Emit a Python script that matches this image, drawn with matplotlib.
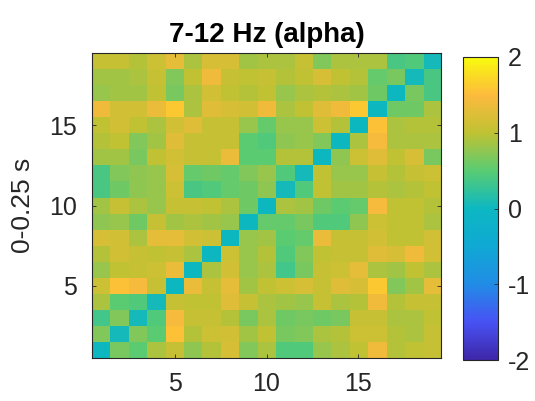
import numpy as np
import matplotlib
matplotlib.use("Agg")
import matplotlib.pyplot as plt
from matplotlib.colors import LinearSegmentedColormap

plt.rcParams['font.family'] = ['Liberation Sans', 'DejaVu Sans']
plt.rcParams['axes.unicode_minus'] = False

title = "7-12 Hz (alpha)"
ylabel = "0-0.25 s"
clim = (-2, 2)
xticks = [5, 10, 15]
yticks = [5, 10, 15]
cbar_ticks = [-2, -1, 0, 1, 2]

# rows listed top (19) to bottom (1)
rows_top_down = [
    [1.05, 1.05, 0.95, 1.1, 1.3, 0.9, 1.2, 1.2, 0.85, 0.9, 0.9, 1.05, 0.7, 0.9, 0.9, 0.9, 0.4, 0.45, 0.05],
    [0.85, 0.85, 0.9, 1.05, 0.7, 1.0, 1.4, 1.05, 1.0, 1.05, 0.95, 1.0, 1.2, 1.0, 0.95, 0.55, 0.65, 0.05, 0.4],
    [0.8, 0.85, 0.85, 1.0, 0.65, 0.9, 1.15, 1.0, 0.95, 1.0, 0.8, 0.9, 0.95, 0.9, 0.85, 0.6, 0.0, 0.65, 0.4],
    [1.4, 1.15, 1.15, 1.35, 1.6, 0.9, 1.25, 1.2, 1.15, 1.4, 0.9, 1.0, 1.25, 1.4, 1.6, 0.0, 0.6, 0.6, 0.9],
    [1.0, 1.15, 1.0, 0.9, 1.15, 1.25, 1.05, 1.05, 0.8, 0.55, 0.8, 0.8, 1.1, 0.95, 0.0, 1.55, 0.9, 0.95, 0.95],
    [0.95, 1.0, 0.7, 0.85, 1.25, 1.05, 1.05, 1.05, 0.5, 0.45, 0.75, 0.8, 0.7, 0.0, 0.9, 1.45, 0.9, 0.9, 0.9],
    [0.85, 0.85, 0.65, 1.0, 1.15, 1.05, 1.05, 1.35, 0.5, 0.5, 0.95, 0.95, 0.0, 0.75, 1.1, 1.25, 1.0, 1.2, 0.65],
    [0.4, 0.7, 0.75, 0.8, 1.2, 0.55, 0.6, 0.55, 0.7, 0.8, 0.45, 0.05, 1.0, 0.8, 0.8, 1.05, 0.95, 1.05, 1.1],
    [0.4, 0.6, 0.75, 0.8, 1.1, 0.4, 0.45, 0.55, 0.6, 0.75, 0.05, 0.45, 1.0, 0.85, 0.85, 0.95, 0.9, 0.95, 1.0],
    [0.85, 1.05, 0.9, 0.8, 1.05, 1.05, 1.0, 0.9, 0.6, 0.0, 0.9, 0.85, 0.6, 0.5, 0.55, 1.45, 1.0, 1.0, 0.95],
    [0.75, 0.8, 0.6, 1.05, 0.85, 0.9, 0.85, 0.8, 0.0, 0.55, 0.55, 0.65, 0.45, 0.45, 0.75, 1.1, 1.0, 1.0, 0.9],
    [1.2, 1.15, 0.9, 1.3, 1.3, 1.15, 1.1, 0.0, 0.8, 0.85, 0.5, 0.55, 1.35, 1.05, 1.05, 1.15, 1.0, 1.0, 1.15],
    [0.95, 1.15, 1.05, 1.0, 1.05, 0.9, 0.0, 1.1, 0.8, 0.95, 0.45, 0.7, 1.0, 1.05, 1.05, 1.25, 1.2, 1.4, 1.15],
    [0.8, 1.0, 1.05, 1.1, 1.35, 0.0, 0.9, 1.15, 0.8, 0.9, 0.35, 0.65, 1.05, 1.1, 1.3, 0.9, 0.85, 1.0, 0.9],
    [1.1, 1.55, 1.45, 1.05, 0.0, 1.35, 1.05, 1.3, 0.85, 1.0, 1.1, 1.2, 1.05, 1.25, 1.2, 1.6, 0.7, 0.85, 1.3],
    [0.9, 0.5, 0.45, 0.05, 1.05, 1.0, 1.0, 1.25, 1.05, 0.9, 0.85, 0.8, 1.05, 0.9, 0.95, 1.4, 0.95, 1.05, 1.05],
    [0.35, 0.7, 0.05, 0.45, 1.45, 1.05, 1.05, 0.95, 0.65, 0.9, 0.6, 0.65, 0.6, 0.65, 1.05, 1.05, 0.9, 0.9, 1.0],
    [0.7, 0.05, 0.7, 0.5, 1.55, 0.95, 1.1, 1.15, 0.85, 1.0, 0.65, 0.7, 0.9, 0.95, 1.1, 1.1, 0.95, 0.9, 1.05],
    [0.0, 0.65, 0.5, 0.9, 1.05, 0.75, 0.95, 1.2, 0.7, 0.9, 0.45, 0.45, 0.8, 0.9, 1.0, 1.4, 0.95, 1.0, 1.05],
]

# approximate MATLAB parula
parula_pts = [
    (0.000, (0.2422, 0.1504, 0.6603)),
    (0.125, (0.2810, 0.3228, 0.9579)),
    (0.250, (0.1300, 0.5500, 0.9000)),
    (0.375, (0.0600, 0.6600, 0.8300)),
    (0.500, (0.0500, 0.7200, 0.7600)),
    (0.625, (0.3500, 0.8000, 0.4500)),
    (0.750, (0.7500, 0.7600, 0.2000)),
    (0.875, (0.9900, 0.7300, 0.2400)),
    (1.000, (0.9763, 0.9831, 0.0538)),
]
parula = LinearSegmentedColormap.from_list("parula", parula_pts, N=256)

data = np.array(rows_top_down)[::-1]
n = data.shape[0]

fig = plt.figure(figsize=(5.35, 4.01), dpi=100)
ax = fig.add_axes([92 / 535, 1 - 358 / 401, 349 / 535, 305 / 401])
im = ax.imshow(data, cmap=parula, vmin=clim[0], vmax=clim[1], origin='lower',
               extent=[0.5, n + 0.5, 0.5, n + 0.5], aspect='auto', interpolation='nearest')
ax.set_xticks(xticks)
ax.set_yticks(yticks)
edge = (0.15, 0.15, 0.15)
ax.tick_params(direction='in', length=3, width=0.6, top=True, right=True,
               labelsize=18, colors=edge)
ax.tick_params(axis='x', pad=10)
ax.tick_params(axis='y', pad=11)
for s in ax.spines.values():
    s.set_color(edge)
    s.set_linewidth(0.8)
ax.set_title(title, fontsize=20, fontweight='bold', pad=8)
ax.set_ylabel(ylabel, fontsize=19, color=edge, labelpad=10)

cax = fig.add_axes([463 / 535, 1 - 360 / 401, 35 / 535, 303 / 401])
cb = fig.colorbar(im, cax=cax, ticks=cbar_ticks)
cb.outline.set_edgecolor(edge)
cb.outline.set_linewidth(0.8)
cax.tick_params(direction='in', length=3, width=0.6, labelsize=18, colors=edge, pad=7)

fig.savefig("out.png", dpi=100)
